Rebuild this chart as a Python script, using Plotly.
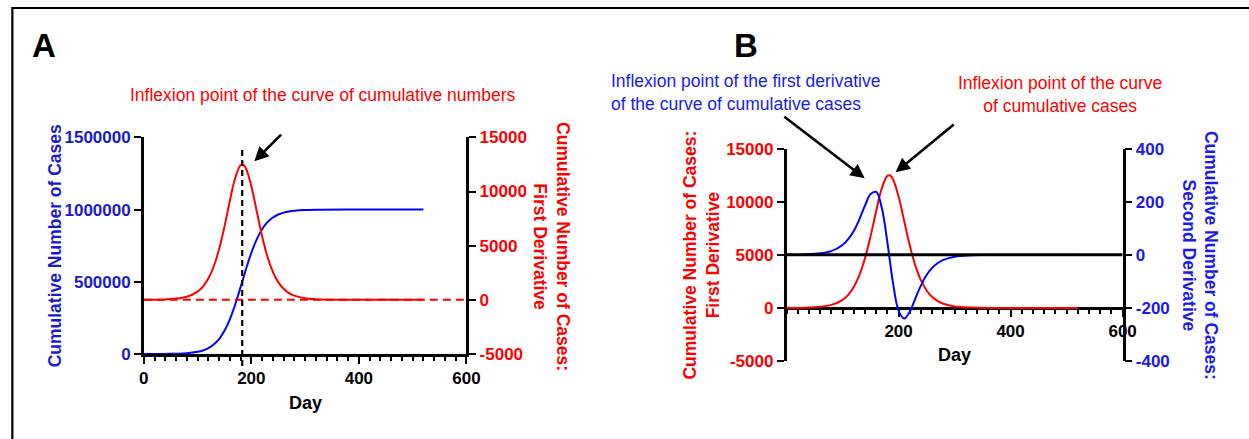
import plotly.graph_objects as go

# ---------------- data ----------------
days = [0, 40, 80, 100, 110, 120, 130, 140, 150, 160, 170, 180, 185, 190,
        200, 210, 220, 230, 240, 250, 260, 270, 280, 300, 330, 380, 450, 520]
cumulative_cases = [0, 1000, 6000, 16000, 25000, 41000, 66000, 104000, 161000,
                    240000, 343000, 463000, 525000, 587000, 701000, 794000,
                    864000, 913000, 945000, 966000, 979000, 987000, 992000,
                    997000, 999000, 1000000, 1000000, 1000000]
first_derivative = [5, 40, 290, 760, 1230, 1970, 3080, 4670, 6760, 9130, 11270,
                    12430, 12470, 12120, 10490, 8180, 5870, 3980, 2590, 1640,
                    1020, 630, 390, 140, 30, 0, 0, 0]
second_derivative = [0, 2, 14, 37, 59, 90, 134, 185, 229, 237, 177, 47, -31,
                     -105, -210, -240, -214, -164, -115, -76, -49, -31, -19,
                     -7, -2, 0, 0, 0]
inflexion_day = 183
zero_line_days = [0, 600]
zero_line_values = [0, 0]

x_ticks_a = [0, 200, 400, 600]
x_ticks_b = [200, 400, 600]
y_ticks_cum = [0, 500000, 1000000, 1500000]
y_ticklabels_cum = ["0", "500000", "1000000", "1500000"]
y_ticks_d1 = [-5000, 0, 5000, 10000, 15000]
y_ticklabels_d1 = ["-5000", "0", "5000", "10000", "15000"]
y_ticks_d2 = [-400, -200, 0, 200, 400]
y_ticklabels_d2 = ["-400", "-200", "0", "200", "400"]

# ---------------- layout helpers ----------------
W, H = 1249, 439
# the photographed page comes out slightly scaled/offset; compensate
SX, OX = 0.989, 1.6
SY, OY = 0.958, 8.5
def px(x):
    return ((x - OX) / SX) / W
def py(y):
    return 1 - ((y - OY) / SY) / H

FONT = "Liberation Sans, Arial, sans-serif"
RED = "#ff0000"
BLUE_LINE = "#0000ff"
BLUE_TXT = "#1a1acc"
BLUE_TXT_B = "#1a1aee"

fig = go.Figure()

# Panel A
fig.add_trace(go.Scatter(x=days, y=cumulative_cases, xaxis="x", yaxis="y", mode="lines",
                         line=dict(color=BLUE_LINE, width=2, shape="spline"), showlegend=False))
fig.add_trace(go.Scatter(x=zero_line_days, y=zero_line_values, xaxis="x", yaxis="y2", mode="lines",
                         line=dict(color=RED, width=2, dash="8px,5px"), showlegend=False))
fig.add_trace(go.Scatter(x=days, y=first_derivative, xaxis="x", yaxis="y2", mode="lines",
                         line=dict(color=RED, width=2, shape="spline"), showlegend=False))

# Panel B
fig.add_trace(go.Scatter(x=days, y=first_derivative, xaxis="x3", yaxis="y3", mode="lines",
                         line=dict(color=RED, width=2, shape="spline"), showlegend=False))
fig.add_trace(go.Scatter(x=days, y=second_derivative, xaxis="x3", yaxis="y4", mode="lines",
                         line=dict(color=BLUE_LINE, width=2, shape="spline"), showlegend=False))
fig.add_trace(go.Scatter(x=zero_line_days, y=zero_line_values, xaxis="x3", yaxis="y4", mode="lines",
                         line=dict(color="black", width=3), showlegend=False))

axis_common = dict(showgrid=False, zeroline=False, showline=True, linecolor="black",
                   linewidth=2.5, ticks="outside", tickwidth=2, tickcolor="black",
                   ticklen=7, layer="below traces")
minor_x = dict(ticks="outside", ticklen=4, tickwidth=1.5, tickcolor="black",
               dtick=20, tick0=0, showgrid=False)

TS = 17
tick_black = dict(family=FONT, size=TS, color="black", weight="bold")
tick_blue = dict(family=FONT, size=TS, color=BLUE_TXT, weight="bold")
tick_blue_b = dict(family=FONT, size=TS, color=BLUE_TXT_B, weight="bold")
tick_red = dict(family=FONT, size=TS, color=RED, weight="bold")

fig.update_layout(
    width=W, height=H,
    margin=dict(l=0, r=0, t=0, b=0),
    paper_bgcolor="white", plot_bgcolor="rgba(0,0,0,0)",
    showlegend=False,
    font=dict(family=FONT),
    xaxis=dict(domain=[px(141), px(465)], range=[0, 600], anchor="y",
               tickvals=x_ticks_a, tickfont=tick_black, minor=minor_x, **axis_common),
    yaxis=dict(domain=[py(354), py(137)], range=[0, 1500000], anchor="x",
               tickvals=y_ticks_cum, ticktext=y_ticklabels_cum, tickfont=tick_blue,
               **axis_common),
    yaxis2=dict(overlaying="y", side="right", anchor="x", range=[-5000, 15000],
                tickvals=y_ticks_d1, ticktext=y_ticklabels_d1, tickfont=tick_red,
                **axis_common),
    xaxis3=dict(domain=[px(786.5), px(1124)], range=[0, 600], anchor="free",
                position=py(308), tickvals=x_ticks_b, tickfont=tick_black,
                minor=minor_x, **axis_common),
    yaxis3=dict(domain=[py(361), py(148.3)], range=[-5000, 15000], anchor="x3",
                tickvals=y_ticks_d1, ticktext=y_ticklabels_d1, tickfont=tick_red,
                **axis_common),
    yaxis4=dict(overlaying="y3", side="right", anchor="x3", range=[-400, 400],
                tickvals=y_ticks_d2, ticktext=y_ticklabels_d2, tickfont=tick_blue_b,
                **axis_common),
)

shapes = [
    # outer frame (top and left edges visible)
    dict(type="rect", xref="paper", yref="paper", x0=px(9), x1=px(1275), y0=py(470), y1=py(7.5),
         line=dict(color="black", width=2.2), fillcolor="rgba(0,0,0,0)", layer="above"),
    # inflexion day dashed line (panel A)
    dict(type="line", xref="x", yref="paper", x0=inflexion_day, x1=inflexion_day,
         y0=py(366), y1=py(147), line=dict(color="black", width=2.2, dash="6px,4px"),
         layer="above"),
]
fig.update_layout(shapes=shapes)

ann = []
def text(x, y, s, size=17, color="black", bold=False, angle=0, xanchor="center", align="center"):
    f = dict(family=FONT, size=size, color=color)
    if bold:
        f["weight"] = "bold"
    ann.append(dict(xref="paper", yref="paper", x=px(x), y=py(y), text=s, showarrow=False,
                    font=f, textangle=angle, xanchor=xanchor, yanchor="middle", align=align))

def arrow(x_tail, y_tail, x_head, y_head):
    ann.append(dict(xref="paper", yref="paper", x=px(x_head), y=py(y_head),
                    axref="pixel", ayref="pixel",
                    ax=(x_tail - x_head) / SX, ay=(y_tail - y_head) / SY,
                    text="", showarrow=True, arrowhead=2, arrowsize=1.1, arrowwidth=2.6,
                    arrowcolor="black"))

# Panel labels
text(41, 45, "A", size=33, bold=True)
text(746, 45, "B", size=33, bold=True)

# Panel A texts
text(320, 95, "Inflexion point of the curve of cumulative numbers", size=17.5, color=RED)
arrow(280, 134, 252, 161)
text(52, 246, "Cumulative Number of Cases", size=17.5, color=BLUE_TXT, bold=True, angle=-90)
text(551, 246, "Cumulative Number of Cases:<br>First Derivative", size=17.5, color=RED,
     bold=True, angle=90)
text(303, 403, "Day", size=18, bold=True)

# Panel B texts
text(608, 92, "Inflexion point of the first derivative<br>of the curve of cumulative cases",
     size=17.5, color=BLUE_TXT_B, xanchor="left", align="left")
text(1061, 94, "Inflexion point of the curve<br>of cumulative cases", size=17.5, color=RED)
arrow(784, 118, 865, 178)
arrow(955, 125, 896, 172)
text(701, 255, "Cumulative Number of Cases:<br>First Derivative", size=17.5, color=RED,
     bold=True, angle=-90)
text(1202, 255, "Cumulative Number of Cases:<br>Second Derivative", size=17.5, color=BLUE_TXT_B,
     bold=True, angle=90)
text(955, 355, "Day", size=18, bold=True)

fig.update_layout(annotations=ann)

post = (
    "document.documentElement.style.margin='0';"
    "document.documentElement.style.overflow='hidden';"
    "document.body.style.margin='0';document.body.style.padding='0';"
    "document.body.style.overflow='hidden';"
    "var d=document.getElementsByClassName('plotly-graph-div')[0];"
    "d.style.position='fixed';d.style.top='0px';d.style.left='0px';"
)
fig.write_html("out.html", config={"displayModeBar": False}, post_script=post)
